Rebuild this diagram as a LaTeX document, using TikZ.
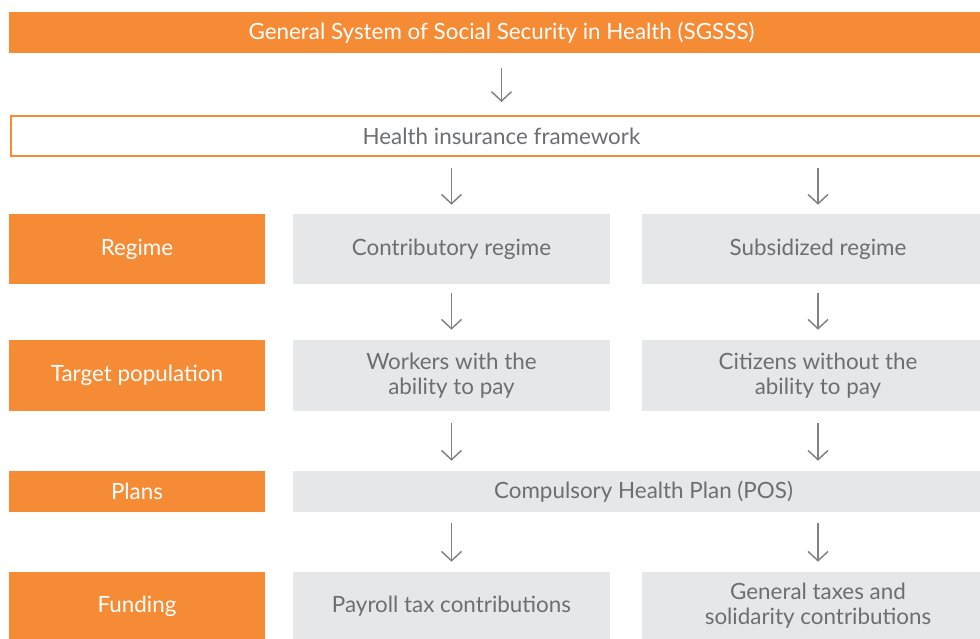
\documentclass[tikz,border=0pt]{standalone}
\usepackage{fontspec}
\setmainfont{Lato}
\usetikzlibrary{arrows.meta}
\definecolor{sgorange}{RGB}{245,139,53}
\definecolor{sggray}{RGB}{230,231,232}
\definecolor{sgtext}{RGB}{109,110,113}
\definecolor{sgarrow}{RGB}{128,130,133}
\begin{document}
\begin{tikzpicture}[x=0.75pt,y=0.75pt,yscale=-1,xscale=1,
  font=\fontsize{16.8}{18.75}\selectfont,
  label box/.style={fill=sgorange,text=white,inner sep=0pt,minimum width=192pt,align=center},
  cell box/.style={fill=sggray,text=sgtext,inner sep=0pt,align=center},
  down arrow/.style={draw=sgarrow,line width=1.1pt,-{Straight Barb[length=7pt,width=15pt]}}]
\useasboundingbox (0,0) rectangle (980,638);

% header bars
\node [fill=sgorange,text=white,inner sep=0pt,minimum width=738.75pt,minimum height=30.75pt] (sgsss) at (501.5,32.5) {General System of Social Security in Health (SGSSS)};
\node [draw=sgorange,line width=1.5pt,fill=white,text=sgtext,inner sep=0pt,minimum width=736.5pt,minimum height=30pt] (frame) at (501.5,136) {Health insurance framework};

% row: regime
\node [label box,minimum height=52.5pt] (regime) at (137,249) {Regime};
\node [cell box,minimum width=237.75pt,minimum height=52.5pt] (contrib) at (451.5,249) {Contributory regime};
\node [cell box,minimum width=264pt,minimum height=52.5pt] (subsid) at (818,249) {Subsidized regime};

% row: target population
\node [label box,minimum height=53.25pt] (target) at (137,375.5) {Target population};
\node [cell box,minimum width=237.75pt,minimum height=53.25pt] (workers) at (451.5,375.5) {Workers with the\\ability to pay};
\node [cell box,minimum width=264pt,minimum height=53.25pt] (citizens) at (818,375.5) {Citizens without the\\ability to pay};

% row: plans
\node [label box,minimum height=30.75pt] (plans) at (137,491.5) {Plans};
\node [cell box,minimum width=525.75pt,minimum height=30.75pt] (pos) at (643.5,491.5) {Compulsory Health Plan (POS)};

% row: funding
\node [label box,minimum height=51pt] (funding) at (137,606) {Funding};
\node [cell box,minimum width=237.75pt,minimum height=51pt] (payroll) at (451.5,606) {Payroll tax contributions};
\node [cell box,minimum width=264pt,minimum height=51pt] (taxes) at (818,606) {General taxes and\\solidarity contributions};

% arrows
\draw [down arrow,shorten <=11.25pt,shorten >=9.75pt] (sgsss) -- (frame);
\draw [down arrow,shorten <=8.25pt,shorten >=6.75pt] (contrib.north |- frame.south) -- (contrib.north);
\draw [down arrow,shorten <=8.25pt,shorten >=6.75pt] (subsid.north |- frame.south) -- (subsid.north);
\draw [down arrow,shorten <=6.75pt,shorten >=7.5pt] (contrib) -- (workers);
\draw [down arrow,shorten <=6.75pt,shorten >=7.5pt] (subsid) -- (citizens);
\draw [down arrow,shorten <=9pt,shorten >=7.5pt] (workers.south) -- (workers.south |- pos.north);
\draw [down arrow,shorten <=9pt,shorten >=7.5pt] (citizens.south) -- (citizens.south |- pos.north);
\draw [down arrow,shorten <=8.25pt,shorten >=7.5pt] (payroll.north |- pos.south) -- (payroll.north);
\draw [down arrow,shorten <=8.25pt,shorten >=7.5pt] (taxes.north |- pos.south) -- (taxes.north);
\end{tikzpicture}
\end{document}
